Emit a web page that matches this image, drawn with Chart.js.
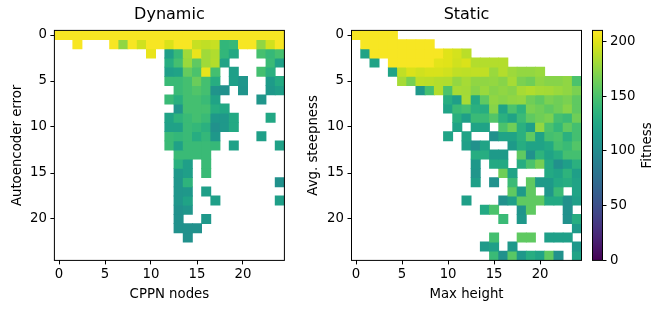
<!DOCTYPE html>
<html>
<head>
<meta charset="utf-8">
<script src="https://cdn.jsdelivr.net/npm/chart.js@4.4.1/dist/chart.umd.min.js"></script>
<style>
  html, body { margin: 0; padding: 0; background: #fff; }
  #wrap { position: relative; width: 665px; height: 311px; overflow: hidden; }
  canvas { position: absolute; top: 0; }
</style>
</head>
<body>
<div id="wrap">
  <canvas id="dynamic" width="300" height="311" style="left:0px"></canvas>
  <canvas id="static" width="300" height="311" style="left:296px"></canvas>
  <canvas id="cbar" width="80" height="311" style="left:585px"></canvas>
</div>
<script>
const _ = null;

// cell index along both axes, and the ticks that get a label
const cellIndex = [0, 1, 2, 3, 4, 5, 6, 7, 8, 9, 10, 11, 12, 13, 14, 15, 16, 17, 18, 19, 20, 21, 22, 23, 24];
const axisTicks = [0, 5, 10, 15, 20];
const colorbarTicks = [0, 50, 100, 150, 200];
const fitnessMax = 210;

// Dynamic: rows = autoencoder error, columns = CPPN nodes
const dynamicGrid = [
  [208,208,208,208,208,208,208,208,208,208,208,208,208,208,208,208,208,208,208,208,208,208,208,208,208],
  [_,_,208,_,_,_,208,175,208,195,208,208,198,208,208,192,190,192,138,140,208,208,175,195,208],
  [_,_,_,_,_,_,_,_,_,_,203,_,118,140,180,203,180,185,138,127,_,_,148,140,148],
  [_,_,_,_,_,_,_,_,_,_,_,_,130,147,178,158,180,186,122,_,_,_,_,142,120],
  [_,_,_,_,_,_,_,_,_,_,_,_,118,122,160,150,203,147,_,118,_,_,147,133,_],
  [_,_,_,_,_,_,_,_,_,_,_,_,142,142,147,162,147,130,_,118,110,_,_,115,128],
  [_,_,_,_,_,_,_,_,_,_,_,_,_,142,147,152,147,108,105,_,108,_,_,112,118],
  [_,_,_,_,_,_,_,_,_,_,_,_,142,132,147,147,142,122,_,_,_,_,110,_,_],
  [_,_,_,_,_,_,_,_,_,_,_,_,_,110,147,147,147,130,126,_,_,_,_,_,_],
  [_,_,_,_,_,_,_,_,_,_,_,_,122,136,142,147,142,112,112,127,_,_,_,125,_],
  [_,_,_,_,_,_,_,_,_,_,_,_,120,120,142,139,133,105,112,127,_,_,_,_,_],
  [_,_,_,_,_,_,_,_,_,_,_,_,142,139,142,130,139,112,_,_,_,_,118,_,_],
  [_,_,_,_,_,_,_,_,_,_,_,_,142,120,142,142,142,140,_,120,_,_,_,_,120],
  [_,_,_,_,_,_,_,_,_,_,_,_,_,142,142,142,142,_,_,_,_,_,_,_,_],
  [_,_,_,_,_,_,_,_,_,_,_,_,_,133,118,_,142,_,_,_,_,_,_,_,_],
  [_,_,_,_,_,_,_,_,_,_,_,_,_,112,118,_,142,_,_,_,_,_,_,_,_],
  [_,_,_,_,_,_,_,_,_,_,_,_,_,110,136,_,_,_,_,_,_,_,_,_,105],
  [_,_,_,_,_,_,_,_,_,_,_,_,_,110,112,_,118,_,_,_,_,_,_,_,_],
  [_,_,_,_,_,_,_,_,_,_,_,_,_,110,122,_,_,118,_,_,_,_,_,_,118],
  [_,_,_,_,_,_,_,_,_,_,_,_,_,105,110,_,_,_,_,_,_,_,_,_,_],
  [_,_,_,_,_,_,_,_,_,_,_,_,_,105,_,_,112,_,_,_,_,_,_,_,_],
  [_,_,_,_,_,_,_,_,_,_,_,_,_,105,105,105,_,_,_,_,_,_,_,_,_],
  [_,_,_,_,_,_,_,_,_,_,_,_,_,_,105,_,_,_,_,_,_,_,_,_,_],
  [_,_,_,_,_,_,_,_,_,_,_,_,_,_,_,_,_,_,_,_,_,_,_,_,_],
  [_,_,_,_,_,_,_,_,_,_,_,_,_,_,_,_,_,_,_,_,_,_,_,_,_]
];

// Static: rows = avg. steepness, columns = max height
const staticGrid = [
  [208,208,208,208,208,_,_,_,_,_,_,_,_,_,_,_,_,_,_,_,_,_,_,_,_],
  [_,208,208,208,208,208,208,208,208,_,_,_,_,_,_,_,_,_,_,_,_,_,_,_,_],
  [_,122,208,208,208,208,208,208,208,208,200,196,188,_,_,_,_,_,_,_,_,_,_,_,_],
  [_,_,122,_,208,208,208,208,208,201,200,195,198,186,186,186,186,_,_,_,_,_,_,_,_],
  [_,_,_,_,122,190,198,195,197,197,195,190,189,190,190,178,186,179,176,176,178,_,_,_,_],
  [_,_,_,_,_,182,167,189,188,186,185,176,182,175,175,176,172,182,168,164,175,172,172,175,150],
  [_,_,_,_,_,_,_,112,147,186,150,182,181,172,178,172,175,172,182,185,182,181,178,175,168],
  [_,_,_,_,_,_,_,_,_,_,130,118,182,128,158,175,172,175,176,164,158,168,164,168,158],
  [_,_,_,_,_,_,_,_,_,_,122,142,147,133,130,172,122,150,136,168,164,158,164,172,158],
  [_,_,_,_,_,_,_,_,_,_,_,132,118,142,142,153,133,122,142,158,164,168,147,142,164],
  [_,_,_,_,_,_,_,_,_,_,_,122,_,122,122,_,150,164,133,118,176,150,139,158,147],
  [_,_,_,_,_,_,_,_,_,_,122,_,122,_,_,105,122,122,133,158,122,147,150,133,147],
  [_,_,_,_,_,_,_,_,_,_,_,_,118,105,122,_,_,114,130,122,122,127,147,142,153],
  [_,_,_,_,_,_,_,_,_,_,_,_,_,130,130,114,114,_,158,105,136,122,130,147,147],
  [_,_,_,_,_,_,_,_,_,_,_,_,_,112,_,127,127,_,130,150,166,127,105,118,133],
  [_,_,_,_,_,_,_,_,_,_,_,_,_,110,_,_,164,122,_,_,_,127,122,136,118],
  [_,_,_,_,_,_,_,_,_,_,_,_,_,118,_,105,_,142,_,158,114,114,127,130,122],
  [_,_,_,_,_,_,_,_,_,_,_,_,_,_,_,_,_,158,114,158,_,110,142,_,122],
  [_,_,_,_,_,_,_,_,_,_,_,_,118,_,_,_,105,118,158,158,158,127,127,105,118],
  [_,_,_,_,_,_,_,_,_,_,_,_,_,_,127,150,_,_,108,158,_,_,_,105,_],
  [_,_,_,_,_,_,_,_,_,_,_,_,_,_,_,_,142,_,112,_,_,_,_,105,130],
  [_,_,_,_,_,_,_,_,_,_,_,_,_,_,_,_,_,_,_,_,_,_,_,_,114],
  [_,_,_,_,_,_,_,_,_,_,_,_,_,_,_,147,_,_,158,158,_,118,118,118,_],
  [_,_,_,_,_,_,_,_,_,_,_,_,_,_,114,118,_,112,_,_,_,_,_,_,112],
  [_,_,_,_,_,_,_,_,_,_,_,_,_,_,_,142,105,155,112,130,122,158,105,_,122]
];

// viridis, sampled every 0.05
const viridisStops = [
  '#440154', '#471365', '#482475', '#463480', '#414487', '#3b528b', '#355f8d',
  '#2f6c8e', '#2a788e', '#25848e', '#21918c', '#1e9c89', '#22a884', '#2fb47c',
  '#44bf70', '#5ec962', '#7ad151', '#9bd93c', '#bddf26', '#dfe318', '#fde725'
];

function hexToRgb(h) {
  return [parseInt(h.slice(1, 3), 16), parseInt(h.slice(3, 5), 16), parseInt(h.slice(5, 7), 16)];
}

function viridis(v) {
  let t = Math.max(0, Math.min(1, v / fitnessMax)) * (viridisStops.length - 1);
  let i = Math.min(Math.floor(t), viridisStops.length - 2);
  let f = t - i;
  let a = hexToRgb(viridisStops[i]);
  let b = hexToRgb(viridisStops[i + 1]);
  let c = a.map((x, k) => Math.round(x + (b[k] - x) * f));
  return `rgb(${c[0]},${c[1]},${c[2]})`;
}

const FONT = "'DejaVu Sans', sans-serif";
Chart.defaults.font.family = FONT;
Chart.defaults.font.size = 13.3;
Chart.defaults.color = '#000';

// box around the plotting area, like the matplotlib spines
const framePlugin = {
  id: 'frame',
  afterDatasetsDraw(chart) {
    const { ctx, chartArea: a } = chart;
    ctx.save();
    ctx.strokeStyle = '#000';
    ctx.lineWidth = 1;
    ctx.strokeRect(a.left, a.top, a.right - a.left, a.bottom - a.top);
    ctx.restore();
  }
};

// panel title centred over the plotting area
const panelTitle = {
  id: 'panelTitle',
  afterDraw(chart, args, opts) {
    const { ctx, chartArea: a } = chart;
    ctx.save();
    ctx.font = `16px ${FONT}`;
    ctx.fillStyle = '#000';
    ctx.textAlign = 'center';
    ctx.textBaseline = 'middle';
    ctx.fillText(opts.text, (a.left + a.right) / 2, 15);
    ctx.restore();
  }
};

function rowDatasets(grid) {
  // one floating-bar dataset per row, each bar spans one cell
  return grid.map((row, r) => ({
    data: row.map((v) => (v === null ? null : [r - 0.5, r + 0.5])),
    backgroundColor: row.map((v) => (v === null ? 'rgba(0,0,0,0)' : viridis(v))),
    grouped: false,
    categoryPercentage: 1,
    barPercentage: 1,
    borderWidth: 0,
    inflateAmount: 0.4
  }));
}

function heatmap(id, title, xTitle, yTitle, yWidth, rightPad, grid) {
  return new Chart(document.getElementById(id), {
    type: 'bar',
    data: { labels: cellIndex.map(String), datasets: rowDatasets(grid) },
    options: {
      responsive: false,
      animation: false,
      devicePixelRatio: 1,
      layout: { padding: { left: 0, right: rightPad, top: 30.4, bottom: 0 } },
      plugins: {
        legend: { display: false },
        tooltip: { enabled: false },
        panelTitle: { text: title }
      },
      scales: {
        x: {
          type: 'category',
          offset: true,
          border: { display: false },
          grid: {
            offset: false,
            drawOnChartArea: false,
            tickLength: 4,
            lineWidth: 1,
            color: (ctx) => (axisTicks.includes(ctx.index) ? '#000' : 'rgba(0,0,0,0)')
          },
          ticks: {
            autoSkip: false,
            maxRotation: 0,
            padding: 2,
            callback: (value, index) => (axisTicks.includes(index) ? String(cellIndex[index]) : '')
          },
          title: { display: true, text: xTitle, padding: { top: 0, bottom: 8 } },
          afterFit: (s) => { s.height = 50.6; }
        },
        y: {
          type: 'linear',
          reverse: true,
          min: -0.5,
          max: 24.5,
          border: { display: false },
          grid: { drawOnChartArea: false, tickLength: 4, lineWidth: 1, color: '#000' },
          ticks: { padding: 3.5 },
          afterBuildTicks: (axis) => { axis.ticks = axisTicks.map((v) => ({ value: v })); },
          title: { display: true, text: yTitle, padding: { top: 9.5, bottom: 0 } },
          afterFit: (s) => { s.width = yWidth; }
        }
      }
    },
    plugins: [framePlugin, panelTitle]
  });
}

heatmap('dynamic', 'Dynamic', 'CPPN nodes', 'Autoencoder error', 54.4, 15.6, dynamicGrid);
heatmap('static', 'Static', 'Max height', 'Avg. steepness', 55.5, 14.5, staticGrid);

// colorbar label reads bottom to top
const colorbarLabel = {
  id: 'cbarLabel',
  afterDraw(chart) {
    const { ctx, chartArea: a } = chart;
    ctx.save();
    ctx.translate(63, (a.top + a.bottom) / 2);
    ctx.rotate(-Math.PI / 2);
    ctx.font = `13.3px ${FONT}`;
    ctx.fillStyle = '#000';
    ctx.textAlign = 'center';
    ctx.textBaseline = 'middle';
    ctx.fillText('Fitness', 0, 0);
    ctx.restore();
  }
};

new Chart(document.getElementById('cbar'), {
  type: 'bar',
  data: {
    labels: ['Fitness'],
    datasets: [{
      data: [[0, fitnessMax]],
      categoryPercentage: 1,
      barPercentage: 1,
      borderWidth: 0,
      backgroundColor: (ctx) => {
        const chart = ctx.chart;
        if (!chart.chartArea) return null;
        const y = chart.scales.y;
        const g = chart.ctx.createLinearGradient(0, y.getPixelForValue(0), 0, y.getPixelForValue(fitnessMax));
        viridisStops.forEach((c, i) => g.addColorStop(i / (viridisStops.length - 1), c));
        return g;
      }
    }]
  },
  options: {
    responsive: false,
    animation: false,
    devicePixelRatio: 1,
    layout: { padding: { left: 7.5, right: 0, top: 30.4, bottom: 50.6 } },
    plugins: { legend: { display: false }, tooltip: { enabled: false } },
    scales: {
      x: { display: false, offset: true },
      y: {
        position: 'right',
        min: 0,
        max: fitnessMax,
        border: { display: false },
        grid: { drawOnChartArea: false, tickLength: 4, lineWidth: 1, color: '#000' },
        ticks: { padding: 3.5 },
        afterBuildTicks: (axis) => { axis.ticks = colorbarTicks.map((v) => ({ value: v })); },
        afterFit: (s) => { s.width = 62.5; }
      }
    }
  },
  plugins: [framePlugin, colorbarLabel]
});
</script>
</body>
</html>
